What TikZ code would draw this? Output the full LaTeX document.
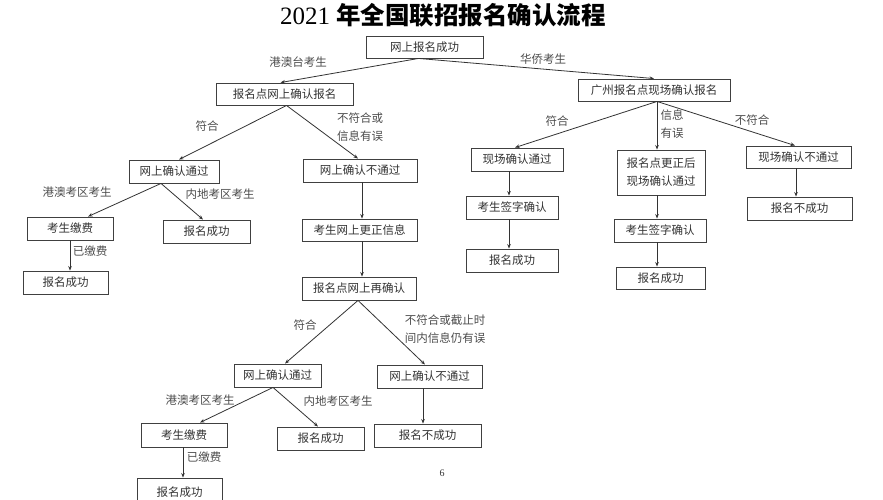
\documentclass[tikz,border=0pt]{standalone}
\usepackage{fontspec}
\newfontfamily\cjk{Noto Sans CJK SC}
\newfontfamily\serifnum{Liberation Serif}
\usetikzlibrary{arrows.meta}
\begin{document}
\begin{tikzpicture}[x=1pt,y=-1pt,
  box/.style n args={2}{draw=black!75, line width=0.9pt, inner sep=0pt,
    minimum width=#1pt, minimum height=#2pt, align=center,
    font=\cjk\fontsize{11.5}{18}\selectfont, text=black!80},
  arr/.style={draw=black!80, line width=0.8pt, -{Stealth[length=4.5pt,width=3.5pt]}},
  lbl/.style={font=\cjk\fontsize{11.5}{18}\selectfont, text=black!70, inner sep=0pt, align=left}]
\useasboundingbox (0,0) rectangle (883,500);
\fill[white] (0,0) rectangle (883,500);
\clip (0,0) rectangle (883,500);

% title
\node[inner sep=0pt] (title) at (443,15) {{\serifnum\fontsize{25}{28}\selectfont 2021 }{\cjk\bfseries\fontsize{24.5}{28}\selectfont 年全国联招报名确认流程}};

% boxes
\node[box={117}{22}] (top) at (424.5,47) {网上报名成功};
\node[box={137}{22}] (hk) at (284.5,94) {报名点网上确认报名};
\node[box={152}{22}] (gz) at (654,90) {广州报名点现场确认报名};
\node[box={90}{23}] (lpass) at (174,171.5) {网上确认通过};
\node[box={114}{23}] (lfail) at (360,170.5) {网上确认不通过};
\node[box={92}{23}] (rpass) at (517,159.5) {现场确认通过};
\node[box={88}{45}] (rfix) at (661,172.5) {报名点更正后\\现场确认通过};
\node[box={105}{22}] (rfail) at (798.5,157) {现场确认不通过};
\node[box={86}{23}] (lfee) at (70,228.5) {考生缴费};
\node[box={87}{23}] (lok) at (206.5,231.5) {报名成功};
\node[box={85}{23}] (lfeeok) at (65.5,282.5) {报名成功};
\node[box={115}{22}] (lcorr) at (359.5,230) {考生网上更正信息};
\node[box={114}{23}] (lre) at (359,288.5) {报名点网上再确认};
\node[box={92}{23}] (rsign) at (512,207.5) {考生签字确认};
\node[box={92}{23}] (rok) at (512,260.5) {报名成功};
\node[box={92}{23}] (fsign) at (660,230.5) {考生签字确认};
\node[box={89}{22}] (fok) at (660.5,278) {报名成功};
\node[box={105}{23}] (fno) at (799.5,208.5) {报名不成功};
\node[box={87}{23}] (bpass) at (277.5,375.5) {网上确认通过};
\node[box={105}{23}] (bfail) at (429.5,376.5) {网上确认不通过};
\node[box={86}{24}] (bfee) at (184,435) {考生缴费};
\node[box={87}{23}] (bok) at (320.5,438.5) {报名成功};
\node[box={107}{23}] (bno) at (427.5,435.5) {报名不成功};
\node[box={85}{28}] (bfeeok) at (179.5,492) {报名成功};

% connectors
\draw[arr] ([xshift=-6pt]top.south) -- ([xshift=-4pt]hk.north);
\draw[arr] ([xshift=-6pt]top.south) -- (gz.north);
\draw[arr] ([xshift=2pt]hk.south) -- ([xshift=5pt]lpass.north);
\draw[arr] ([xshift=2pt]hk.south) -- ([xshift=-2pt]lfail.north);
\draw[arr] ([xshift=3pt]gz.south) -- ([xshift=-2pt]rpass.north);
\draw[arr] ([xshift=3pt]gz.south) -- ([xshift=-4pt]rfix.north);
\draw[arr] ([xshift=3pt]gz.south) -- ([xshift=-3.5pt]rfail.north);
\draw[arr] ([xshift=-13pt]lpass.south) -- ([xshift=18pt]lfee.north);
\draw[arr] ([xshift=-13pt]lpass.south) -- ([xshift=-3.5pt]lok.north);
\draw[arr] (lfee.south) -- (lfee.south |- lfeeok.north);
\draw[arr] ([xshift=2pt]lfail.south) -- ([xshift=2.5pt]lcorr.north);
\draw[arr] ([xshift=2.5pt]lcorr.south) -- ([xshift=3pt]lre.north);
\draw[arr] ([xshift=-1pt]lre.south) -- ([xshift=7.5pt]bpass.north);
\draw[arr] ([xshift=-1pt]lre.south) -- ([xshift=-4.5pt]bfail.north);
\draw[arr] ([xshift=-4.5pt]bpass.south) -- ([xshift=16pt]bfee.north);
\draw[arr] ([xshift=-4.5pt]bpass.south) -- ([xshift=-2.5pt]bok.north);
\draw[arr] ([xshift=-6.5pt]bfail.south) -- ([xshift=-4.5pt]bno.north);
\draw[arr] ([xshift=-1pt]bfee.south) -- ([xshift=3.5pt]bfeeok.north);
\draw[arr] ([xshift=-8pt]rpass.south) -- ([xshift=-3pt]rsign.north);
\draw[arr] ([xshift=-3pt]rsign.south) -- ([xshift=-3pt]rok.north);
\draw[arr] ([xshift=-4pt]rfix.south) -- ([xshift=-3pt]fsign.north);
\draw[arr] ([xshift=-3pt]fsign.south) -- ([xshift=-3.5pt]fok.north);
\draw[arr] ([xshift=-2.5pt]rfail.south) -- ([xshift=-3.5pt]fno.north);

% labels
\node[lbl] (l1) at (298,62) {港澳台考生};
\node[lbl] (l2) at (543,59) {华侨考生};
\node[lbl] (l3) at (207,126) {符合};
\node[lbl] (l4) at (360,127) {不符合或\\信息有误};
\node[lbl] (l5) at (77,192) {港澳考区考生};
\node[lbl] (l6) at (220,194) {内地考区考生};
\node[lbl] (l7) at (90,251) {已缴费};
\node[lbl] (l8) at (557,121) {符合};
\node[lbl] (l9) at (672,124) {信息\\有误};
\node[lbl] (l10) at (752,120) {不符合};
\node[lbl] (l11) at (305,325) {符合};
\node[lbl] (l12) at (445,329) {不符合或截止时\\间内信息仍有误};
\node[lbl] (l13) at (200,400) {港澳考区考生};
\node[lbl] (l14) at (338,401) {内地考区考生};
\node[lbl] (l15) at (204,457) {已缴费};
\node[inner sep=0pt, font=\serifnum\fontsize{10}{12}\selectfont, text=black!80] (pg) at (442,473) {6};
\end{tikzpicture}
\end{document}
